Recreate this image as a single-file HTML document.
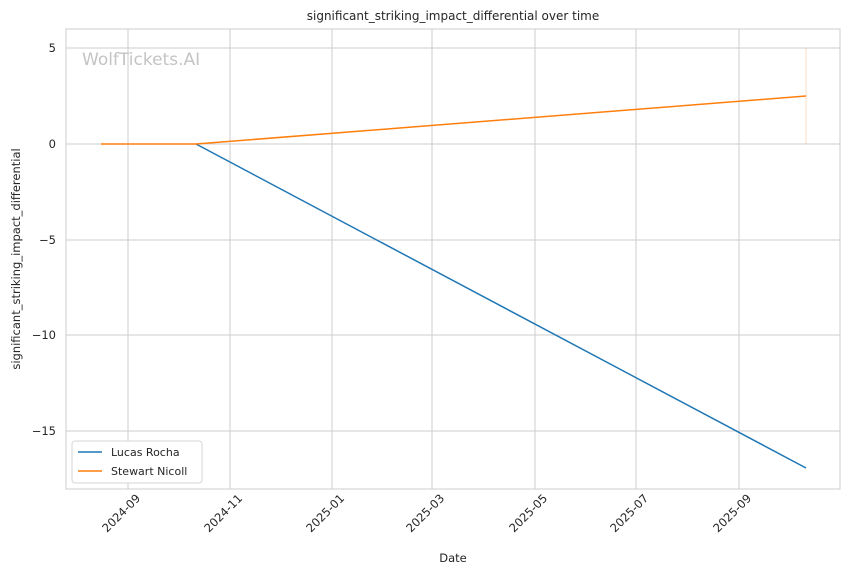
<!DOCTYPE html>
<html><head><meta charset="utf-8"><style>
body{margin:0;background:#fff;}
svg{display:block;font-family:"DejaVu Sans","Liberation Sans",sans-serif;}
</style></head><body>
<svg width="850" height="575" xmlns="http://www.w3.org/2000/svg">
<rect width="850" height="575" fill="#fff"/>
<g stroke="#cccccc" stroke-width="1">
<line x1="128" y1="29" x2="128" y2="489"/><line x1="230" y1="29" x2="230" y2="489"/>
<line x1="332" y1="29" x2="332" y2="489"/><line x1="432" y1="29" x2="432" y2="489"/>
<line x1="535" y1="29" x2="535" y2="489"/><line x1="636" y1="29" x2="636" y2="489"/>
<line x1="739" y1="29" x2="739" y2="489"/>
<line x1="66" y1="48" x2="840" y2="48"/><line x1="66" y1="144" x2="840" y2="144"/>
<line x1="66" y1="240" x2="840" y2="240"/><line x1="66" y1="335" x2="840" y2="335"/>
<line x1="66" y1="431" x2="840" y2="431"/>
</g>
<rect x="66" y="29" width="774" height="460" fill="none" stroke="#cccccc" stroke-width="1"/>
<text x="82" y="65" font-size="17" fill="#c4c4c4">WolfTickets.AI</text>
<line x1="806" y1="48" x2="806" y2="144" stroke="#ff7f0e" stroke-opacity="0.25" stroke-width="1"/>
<polyline points="196,144 806,468" fill="none" stroke="#1f77b4" stroke-width="1.5"/>
<polyline points="101,144 196,144 806,96" fill="none" stroke="#ff7f0e" stroke-width="1.5"/>
<g font-size="11.5" fill="#262626" text-anchor="end">
<text x="56" y="52">5</text><text x="56" y="148">0</text><text x="56" y="244">−5</text>
<text x="56" y="339">−10</text><text x="56" y="435">−15</text>
</g>
<g font-size="11.5" fill="#262626" text-anchor="end">
<text transform="translate(141,499) rotate(-45)">2024-09</text>
<text transform="translate(243,499) rotate(-45)">2024-11</text>
<text transform="translate(345,499) rotate(-45)">2025-01</text>
<text transform="translate(445,499) rotate(-45)">2025-03</text>
<text transform="translate(548,499) rotate(-45)">2025-05</text>
<text transform="translate(649,499) rotate(-45)">2025-07</text>
<text transform="translate(752,499) rotate(-45)">2025-09</text>
</g>
<text x="453" y="562" font-size="11.5" fill="#262626" text-anchor="middle">Date</text>
<text transform="translate(20,259) rotate(-90)" font-size="11.5" fill="#262626" text-anchor="middle">significant_striking_impact_differential</text>
<text x="453" y="20" font-size="12" fill="#262626" text-anchor="middle">significant_striking_impact_differential over time</text>
<rect x="72" y="441" width="130" height="42" rx="3" fill="#fff" stroke="#d6d6d6"/>
<line x1="78" y1="452" x2="102" y2="452" stroke="#1f77b4" stroke-width="1.5"/>
<text x="111" y="456" font-size="11" fill="#262626">Lucas Rocha</text>
<line x1="78" y1="471" x2="102" y2="471" stroke="#ff7f0e" stroke-width="1.5"/>
<text x="111" y="475" font-size="11" fill="#262626">Stewart Nicoll</text>
</svg>
</body></html>
